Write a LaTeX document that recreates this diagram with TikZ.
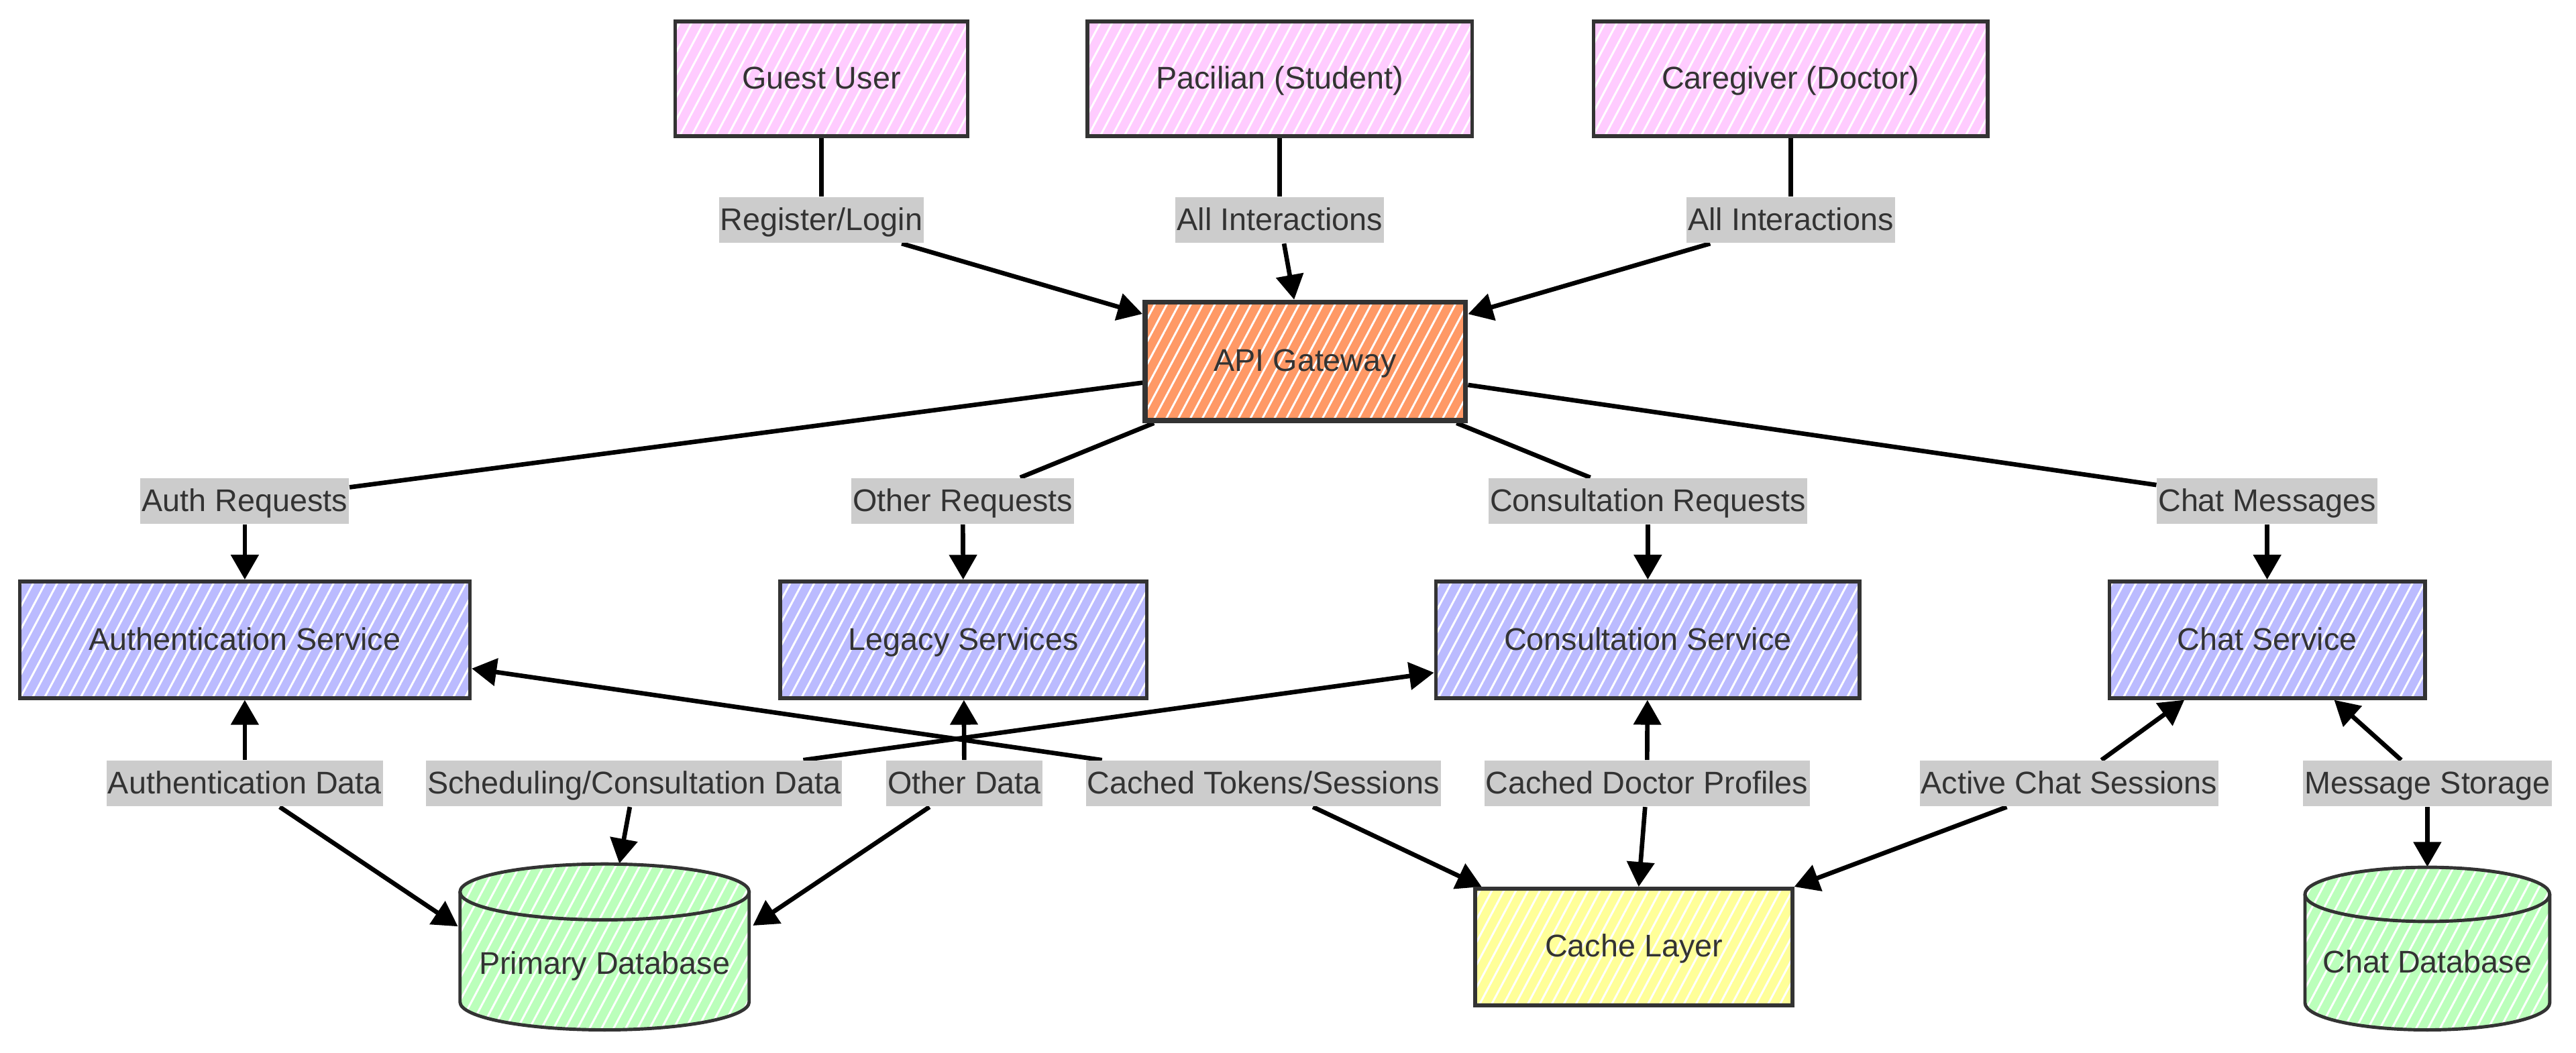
\documentclass[tikz,border=0pt]{standalone}
\usepackage{fontspec}
\setmainfont{Liberation Sans}
\usetikzlibrary{arrows.meta,patterns.meta,calc}
\definecolor{txtc}{HTML}{333333}
\definecolor{pinkc}{HTML}{FFCCFF}
\definecolor{orangec}{HTML}{FF9966}
\definecolor{bluec}{HTML}{BBBBFF}
\definecolor{greenc}{HTML}{BBFFBB}
\definecolor{yellowc}{HTML}{FFFF99}
\definecolor{lblc}{HTML}{CCCCCC}
\pgfdeclarelayer{edgelayer}
\pgfsetlayers{edgelayer,main}
\newcommand{\diafont}{\fontsize{13.3}{16}\selectfont}
% cx, ytop, ybot, rx, ry, colour
\newcommand{\drawcyl}[6]{%
  \path[hatch=#6] (#1-#4,#2+#5) -- (#1-#4,#3-#5)
     arc[start angle=180,end angle=0,x radius=#4,y radius=#5]
     -- (#1+#4,#2+#5)
     arc[start angle=0,end angle=-180,x radius=#4,y radius=#5] -- cycle;
  \draw[cylline] (#1-#4,#2+#5) -- (#1-#4,#3-#5)
     arc[start angle=180,end angle=0,x radius=#4,y radius=#5]
     -- (#1+#4,#2+#5);
  \draw[cylline] (#1,#2+#5) ellipse[x radius=#4,y radius=#5];
}
\begin{document}
\begin{tikzpicture}[x=0.02449cm, y=-0.02449cm,
  hatch/.style={preaction={fill=#1}, pattern={Lines[angle=62,distance=4.5pt,line width=0.85pt]}, pattern color=white},
  cylline/.style={draw=txtc, line width=1.4pt},
  box/.style={hatch=#1, draw=txtc, line width=1.6pt, text=txtc, font=\diafont, inner sep=0pt, text height=11.4pt, text depth=2.8pt},
  bw/.style={minimum width=#1*0.6968pt},
  bh/.style={minimum height=#1*0.6968pt},
  lbl/.style={fill=lblc, text=txtc, font=\diafont, inner xsep=0.6pt, inner ysep=0pt, minimum height=19.5pt, text height=11.4pt, text depth=2.8pt},
  conn/.style={draw=black, line width=1.9pt},
  arr/.style={conn, -{Triangle[length=10.5pt,width=11.5pt]}},
]
\useasboundingbox (0,0) rectangle (1568,640.7);

% top actors
\node[box=pinkc, bw=178, bh=70] (guest) at (500,48) {Guest User};
\node[box=pinkc, bw=234, bh=70] (pac) at (779,48) {Pacilian (Student)};
\node[box=pinkc, bw=240, bh=70] (care) at (1090,48) {Caregiver (Doctor)};

% gateway
\node[box=orangec, bw=195, bh=72, line width=2.2pt] (api) at (794.5,220) {API Gateway};

% services
\node[box=bluec, bw=274, bh=71] (auth) at (149,389.5) {Authentication Service};
\node[box=bluec, bw=223, bh=71] (legacy) at (586.5,389.5) {Legacy Services};
\node[box=bluec, bw=258, bh=71] (cons) at (1003,389.5) {Consultation Service};
\node[box=bluec, bw=192, bh=71] (chat) at (1380,389.5) {Chat Service};

% storage
\node[box=yellowc, bw=193, bh=71] (cache) at (994.5,576.5) {Cache Layer};
\drawcyl{368}{526}{627}{88}{17}{greenc}
\node[inner sep=0pt, bw=176, bh=101, text=txtc, font=\diafont, text height=26pt, text depth=2.8pt] (pdb) at (368,576.5) {Primary Database};
\drawcyl{1477.5}{528}{627}{74.5}{16.5}{greenc}
\node[inner sep=0pt, bw=149, bh=99, text=txtc, font=\diafont, text height=23.2pt, text depth=2.8pt] (cdb) at (1477.5,577.5) {Chat Database};

% labels
\node[lbl] (l1) at (500,134) {Register/Login};
\node[lbl] (l2) at (779,134) {All Interactions};
\node[lbl] (l3) at (1090,134) {All Interactions};
\node[lbl] (l4) at (149,305) {Auth Requests};
\node[lbl] (l5) at (586,305) {Other Requests};
\node[lbl] (l6) at (1003,305) {Consultation Requests};
\node[lbl] (l7) at (1380,305) {Chat Messages};
\node[lbl] (l8) at (149,477) {Authentication Data};
\node[lbl] (l9) at (386,477) {Scheduling/Consultation Data};
\node[lbl] (l10) at (587,477) {Other Data};
\node[lbl] (l11) at (769,477) {Cached Tokens/Sessions};
\node[lbl] (l12) at (1002.5,477) {Cached Doctor Profiles};
\node[lbl] (l13) at (1259.5,477) {Active Chat Sessions};
\node[lbl] (l14) at (1477.5,477) {Message Storage};

\begin{pgfonlayer}{edgelayer}
\draw[conn] (guest) -- (l1); \draw[arr] (l1) -- (api);
\draw[conn] (pac) -- (l2);   \draw[arr] (l2) -- (api);
\draw[conn] (care) -- (l3);  \draw[arr] (l3) -- (api);
\draw[conn] (api) -- (l4);   \draw[arr] (l4) -- (auth);
\draw[conn] (api) -- (l5);   \draw[arr] (l5) -- (legacy);
\draw[conn] (api) -- (l6);   \draw[arr] (l6) -- (cons);
\draw[conn] (api) -- (l7);   \draw[arr] (l7) -- (chat);

\draw[arr] (l8) -- (auth);  \draw[arr] (l8) -- ($(pdb.west)+(-1,-12.5)$);
\draw[arr] (l9) -- ($(cons.west)+(0,20)$); \draw[arr] (l9) -- ($(pdb.north)+(9,0)$);
\draw[arr] (l10) -- (legacy); \draw[arr] (l10) -- ($(pdb.east)+(2,-13)$);
\draw[arr] (l11) -- ($(auth.east)+(0,17.5)$); \draw[arr] (l11) -- ($(cache.north west)+(5,0)$);
\draw[arr] (l12) -- (cons); \draw[arr] (l12) -- (cache);
\draw[arr] (l13) -- (chat); \draw[arr] (l13) -- (cache.north east);
\draw[arr] (l14) -- (chat); \draw[arr] (l14) -- (cdb.north);
\end{pgfonlayer}
\end{tikzpicture}
\end{document}
